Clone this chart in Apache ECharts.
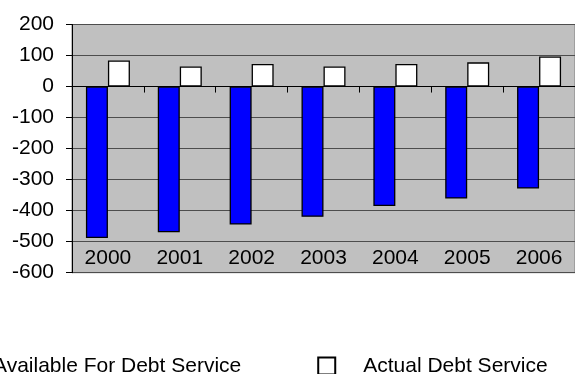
<!DOCTYPE html>
<html><head><meta charset="utf-8">
<script src="https://cdn.jsdelivr.net/npm/echarts@6/dist/echarts.min.js"></script>
<style>html,body{margin:0;padding:0;background:#fff}#c{width:575px;height:374px}</style>
</head><body><div id="c"></div>
<script>
var categories = ['2000','2001','2002','2003','2004','2005','2006'];
var availableForDebtService = [-488,-470,-445,-420,-385,-361,-329];
var actualDebtService = [84,65,73,65,73,78,97];
var seriesNames = ['Available For Debt Service','Actual Debt Service'];
var yMin = -600, yMax = 200, yStep = 100;

var FONT = 'Liberation Sans, Arial, sans-serif';
var chart = echarts.init(document.getElementById('c'), null, {renderer:'canvas'});
chart.setOption({
  animation:false,
  textStyle:{fontFamily:FONT},
  grid:{left:72, top:24.5, width:516, height:248.2, show:true, backgroundColor:'#c0c0c0', borderColor:'#7f7f7f', borderWidth:1},
  legend:{
    left:-53, top:355.5, padding:0, itemWidth:17, itemHeight:17, itemGap:76,
    icon:'rect',
    textStyle:{fontSize:21, color:'#000', fontFamily:FONT, padding:[0,0,0,23]},
    data:seriesNames
  },
  xAxis:[{
    type:'category', data:categories, boundaryGap:true,
    axisLine:{onZero:true, lineStyle:{color:'#000', width:1}},
    axisTick:{show:true, length:6, inside:false, lineStyle:{color:'#000'}},
    axisLabel:{show:false}, splitLine:{show:false}
  },{
    type:'category', data:categories, position:'bottom', boundaryGap:true,
    axisLine:{show:false, onZero:false}, axisTick:{show:false},
    axisLabel:{show:true, inside:true, margin:4, fontSize:21, color:'#000', fontFamily:FONT},
    splitLine:{show:false}
  }],
  yAxis:{
    type:'value', min:yMin, max:yMax, interval:yStep,
    axisLine:{show:true, lineStyle:{color:'#000', width:1}},
    axisTick:{show:true, length:6, lineStyle:{color:'#000'}},
    axisLabel:{fontSize:21, color:'#000', margin:18, fontFamily:FONT},
    splitLine:{show:true, lineStyle:{color:'#4d4d4d', width:1}}
  },
  series:[{
    name:seriesNames[0], type:'bar', xAxisIndex:0, data:availableForDebtService,
    barWidth:22, barGap:'0%',
    itemStyle:{color:'#0000ff', borderColor:'#000', borderWidth:1.3}
  },{
    name:seriesNames[1], type:'bar', xAxisIndex:0, data:actualDebtService,
    barWidth:22, barGap:'0%',
    itemStyle:{color:'#ffffff', borderColor:'#000', borderWidth:1.3}
  }]
});
</script></body></html>
